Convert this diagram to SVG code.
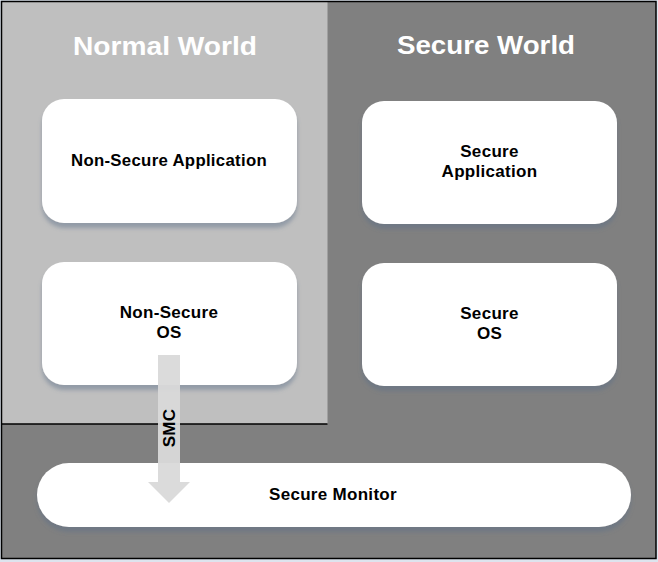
<svg xmlns="http://www.w3.org/2000/svg" width="658" height="562" viewBox="0 0 658 562">
<style>
.box{fill:#ffffff;filter:url(#sh)}
.lbl{font-family:"Liberation Sans",Arial,sans-serif;font-weight:bold;font-size:17px;letter-spacing:0.3px;fill:#000;text-anchor:middle}
.ttl{font-family:"Liberation Sans",Arial,sans-serif;font-weight:bold;font-size:26px;fill:#ffffff;text-anchor:middle}
</style>
<defs>
<filter id="sh" x="-10%" y="-20%" width="120%" height="150%">
<feGaussianBlur in="SourceAlpha" stdDeviation="2"/>
<feOffset dx="0" dy="5" result="b"/>
<feFlood flood-color="#5a6e88" flood-opacity="0.45"/>
<feComposite in2="b" operator="in"/>
<feMerge><feMergeNode/><feMergeNode in="SourceGraphic"/></feMerge>
</filter>
</defs>
<rect x="0" y="0" width="658" height="562" fill="#dde4ee"/>
<rect x="1.5" y="1.5" width="654.5" height="557" fill="#808080" stroke="#000" stroke-width="1.5"/>
<g id="normal-world">
<rect x="2.5" y="2.5" width="325" height="421.5" fill="#bfbfbf"/>
<line x1="2" y1="424" x2="327.5" y2="424" stroke="#000" stroke-width="1.5"/>
<text class="ttl" x="165" y="55" textLength="184" lengthAdjust="spacingAndGlyphs">Normal World</text>
</g>
<g id="secure-world">
<text class="ttl" x="486" y="54" textLength="178" lengthAdjust="spacingAndGlyphs">Secure World</text>
</g>
<g id="non-secure-application">
<rect class="box" x="42" y="99" width="255" height="124" rx="22"/>
<text class="lbl" x="169" y="166" textLength="196" lengthAdjust="spacingAndGlyphs">Non-Secure Application</text>
</g>
<g id="secure-application">
<rect class="box" x="362" y="101" width="255" height="123" rx="22"/>
<text class="lbl" x="489.5" y="157">Secure</text>
<text class="lbl" x="489.5" y="177">Application</text>
</g>
<g id="non-secure-os">
<rect class="box" x="42" y="262" width="255" height="123" rx="22"/>
<text class="lbl" x="169" y="318">Non-Secure</text>
<text class="lbl" x="169" y="338">OS</text>
</g>
<g id="secure-os">
<rect class="box" x="362" y="263" width="255" height="123" rx="22"/>
<text class="lbl" x="489.5" y="319">Secure</text>
<text class="lbl" x="489.5" y="339">OS</text>
</g>
<g id="secure-monitor">
<rect class="box" x="37" y="463" width="594" height="64" rx="32"/>
<text class="lbl" x="333" y="500">Secure Monitor</text>
</g>
<g id="connectors">
<path d="M158,355 H180 V482 H190 L169,503 L148,482 H158 Z" fill="#d9d9d9" opacity="0.95"/>
<text class="lbl" transform="translate(175,428) rotate(-90)" x="0" y="0" font-size="16" letter-spacing="0">SMC</text>
</g>
</svg>
